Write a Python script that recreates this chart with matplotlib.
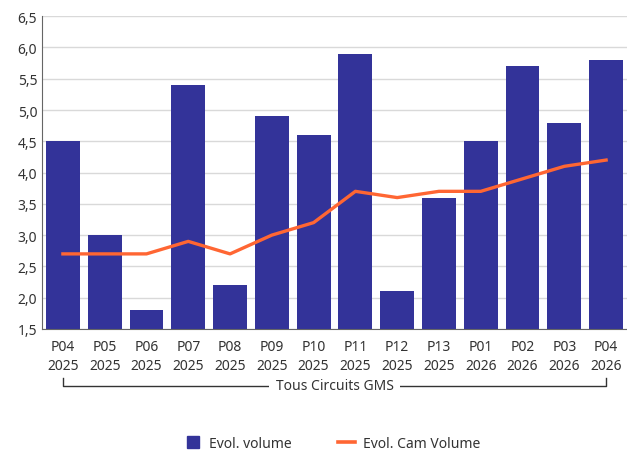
import matplotlib.pyplot as plt
from matplotlib.lines import Line2D

periods = ['P04', 'P05', 'P06', 'P07', 'P08', 'P09', 'P10', 'P11', 'P12', 'P13', 'P01', 'P02', 'P03', 'P04']
years = ['2025'] * 10 + ['2026'] * 4
volume = [4.5, 3.0, 1.8, 5.4, 2.2, 4.9, 4.6, 5.9, 2.1, 3.6, 4.5, 5.7, 4.8, 5.8]
cam_volume = [2.7, 2.7, 2.7, 2.9, 2.7, 3.0, 3.2, 3.7, 3.6, 3.7, 3.7, 3.9, 4.1, 4.2]
group_label = 'Tous Circuits GMS'

bar_color = '#333399'
line_color = '#FF6633'
text_color = '#333333'

plt.rcParams['font.family'] = ['Noto Sans', 'DejaVu Sans']

fig = plt.figure(figsize=(6.27, 4.52), dpi=100)
ax = fig.add_axes([0.067, 0.27, 0.933, 0.692])

x = list(range(len(volume)))
ax.bar(x, volume, width=0.81, color=bar_color, zorder=2)
ax.plot(x, cam_volume, color=line_color, linewidth=2.4, zorder=3)

ax.set_ylim(1.5, 6.5)
ax.set_xlim(-0.5, len(x) - 0.5)
yt = [1.5 + 0.5 * i for i in range(11)]
ax.set_yticks(yt)
ax.set_yticklabels([('%.1f' % v).replace('.', ',') for v in yt], color=text_color, fontsize=10)
ax.set_xticks(x)
ax.set_xticklabels([p + '\n' + y for p, y in zip(periods, years)], color=text_color,
                   fontsize=10, linespacing=1.35)
ax.tick_params(axis='both', length=0)
ax.tick_params(axis='x', pad=7)
ax.grid(axis='y', color='#d9d9d9', linewidth=1, zorder=0)
for s in ['top', 'right']:
    ax.spines[s].set_visible(False)
ax.spines['left'].set_color('#666666')
ax.spines['bottom'].set_color('#666666')

# group bracket under the tick labels
yb = -0.182
tr = ax.get_xaxis_transform()
ax.plot([0, 0, 13, 13], [yb + 0.025, yb, yb, yb + 0.025], color=text_color, lw=1,
        transform=tr, clip_on=False)
ax.text(6.5, yb, group_label, transform=tr, ha='center', va='center', fontsize=10,
        color=text_color, bbox=dict(facecolor='white', edgecolor='none', pad=5))

handles = [Line2D([0], [0], color=bar_color, marker='s', linestyle='none', markersize=9,
                  label='Evol. volume'),
           Line2D([0], [0], color=line_color, lw=2.6, label='Evol. Cam Volume')]
fig.legend(handles=handles, loc='center', bbox_to_anchor=(0.53, 0.016), ncol=2, frameon=False,
           fontsize=10, labelcolor=text_color, handlelength=1.2,
           columnspacing=3.3, handletextpad=0.6)

fig.savefig('out.png', dpi=100)
